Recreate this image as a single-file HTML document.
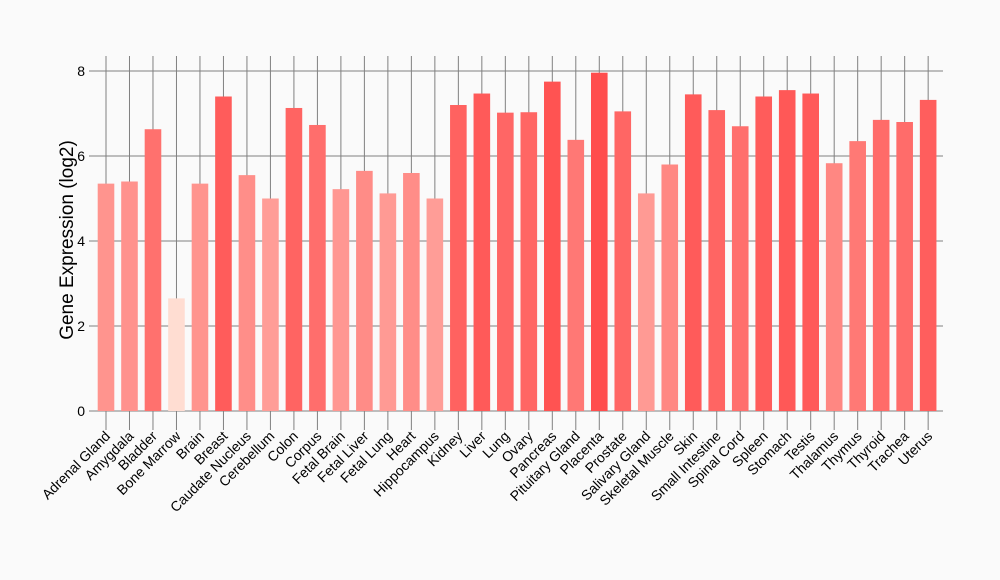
<!DOCTYPE html><html><head><style>body{margin:0;background:#fafafa}svg{display:block}text{font-family:"Liberation Sans",sans-serif}</style></head><body>
<svg id="s" width="1000" height="580" xmlns="http://www.w3.org/2000/svg">
<rect width="1000" height="580" fill="#fafafa"/>
<g id="g"></g>
</svg>
<script>
const d=[["Adrenal Gland",5.35],["Amygdala",5.4],["Bladder",6.63],["Bone Marrow",2.65],["Brain",5.35],["Breast",7.4],["Caudate Nucleus",5.55],["Cerebellum",5.0],["Colon",7.13],["Corpus",6.73],["Fetal Brain",5.22],["Fetal Liver",5.65],["Fetal Lung",5.12],["Heart",5.6],["Hippocampus",5.0],["Kidney",7.2],["Liver",7.47],["Lung",7.02],["Ovary",7.03],["Pancreas",7.75],["Pituitary Gland",6.38],["Placenta",7.96],["Prostate",7.05],["Salivary Gland",5.12],["Skeletal Muscle",5.8],["Skin",7.45],["Small Intestine",7.08],["Spinal Cord",6.7],["Spleen",7.4],["Stomach",7.55],["Testis",7.47],["Thalamus",5.83],["Thymus",6.35],["Thyroid",6.85],["Trachea",6.8],["Uterus",7.32]];
let h='';const y=v=>411-42.5*v,x=i=>106+i*23.49;
for(let v=0;v<=8;v+=2){h+=`<line x1="89" x2="943" y1="${y(v)}" y2="${y(v)}" stroke="#808080" stroke-width="1"/><text x="85" y="${y(v)+5}" font-size="14" text-anchor="end">${v}</text>`;}
d.forEach((e,i)=>{h+=`<line x1="${x(i)}" x2="${x(i)}" y1="56" y2="430" stroke="#808080" stroke-width="1"/>`;});
d.forEach((e,i)=>{const t=(e[1]-2.65)/(7.96-2.65);const g=Math.round(221-144*t),b=Math.round(210-133*t);
h+=`<rect x="${x(i)-8.3}" y="${y(e[1])}" width="16.6" height="${411-y(e[1])}" fill="rgb(255,${g},${b})"/>`;
h+=`<text transform="translate(${x(i)+5},${437}) rotate(-45)" font-size="14" text-anchor="end">${e[0]}</text>`;});
h+=`<text transform="translate(73,240) rotate(-90)" font-size="19" text-anchor="middle">Gene Expression (log2)</text>`;
document.getElementById('g').innerHTML=h;
</script>
</body></html>
